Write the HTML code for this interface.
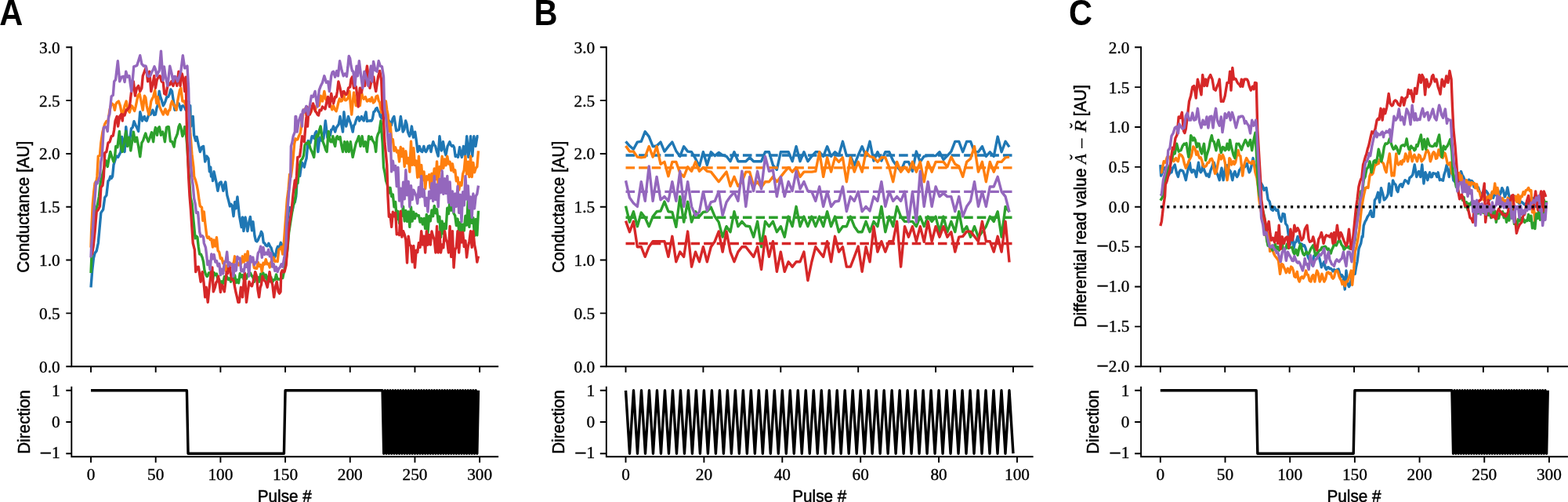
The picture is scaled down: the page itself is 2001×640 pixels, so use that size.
<!DOCTYPE html>
<html lang="en"><head><meta charset="utf-8"><title>Figure</title>
<style>html,body{margin:0;padding:0;background:#fff}svg{display:block}.t{font-family:"Liberation Serif", serif;font-size:21.3px;fill:#000;stroke:#000;stroke-width:0.35px}.l{font-family:"Liberation Sans", sans-serif;font-size:21.0px;fill:#000;stroke:#000;stroke-width:0.5px;text-anchor:middle}.p{font-family:"Liberation Sans", sans-serif;font-weight:bold;font-size:44px;fill:#000}.m{font-family:"Liberation Serif", serif;font-size:21.8px;fill:#000;stroke:#000;stroke-width:0.3px}.s{stroke:#000;stroke-width:1.9;fill:none;stroke-linecap:butt}.sq{stroke:#000;stroke-width:1.9;fill:none;stroke-linecap:square}.d{fill:none;stroke-width:3.4;stroke-linejoin:round;stroke-linecap:butt}</style></head><body>
<svg width="2001" height="640" viewBox="0 0 2001 640">
<rect width="2001" height="640" fill="#fff"/>
<g id="panelA">
<clipPath id="cu0"><rect x="91.3" y="60.3" width="543.9" height="406.9"/></clipPath>
<g clip-path="url(#cu0)">
<polyline class="d" stroke="#1f77b4" points="116.02,366.29 117.71,344.72 119.4,329.26 121.1,322.61 123.2,319.9 125.32,310 127.42,286.94 128.82,271.35 130.23,269.18 131.65,267.14 133.75,251.68 135.87,248.97 137.97,230.66 139.37,229.43 140.78,224.96 142.18,227.4 143.59,224.96 145,210.31 146.76,204.61 148.52,199.05 150.63,200.41 152.73,196.2 154.14,193.49 155.55,174.5 157.66,182.23 159.07,193.49 160.76,161.75 162.57,179.39 164.69,182.23 166.1,175.32 167.5,163.92 169.26,162.43 171.02,154.7 173.12,159.72 174.89,163.11 176.65,167.45 178.75,142.77 180.15,148.19 181.58,154.02 182.98,150.09 184.39,148.46 185.79,153.21 187.2,154.02 188.6,149.82 190.01,145.61 192.11,146.02 193.51,143.31 194.92,140.32 196.69,146.43 198.44,146.02 200.03,137.48 201.6,133 203.19,116.18 204.78,123.51 206.53,128.66 208.28,134.76 209.69,132.32 211.09,129.07 212.86,123.64 214.62,123.51 216.25,120.11 217.89,113.88 219.54,116.45 220.95,126.35 223.05,140.32 225.17,134.76 226.57,134.08 227.98,131.91 229.38,135.71 230.79,140.32 232.19,135.31 233.6,134.76 235.35,136.12 237.12,140.32 238.88,134.49 240.63,129.07 241.34,142.77 242.75,134.76 243.44,161.08 244.85,157.14 246.25,148.46 247.66,172.33 249.77,179.39 251.18,174.5 253.3,184.95 255.4,193.49 257.51,187.8 259.61,186.44 261.73,206.11 263.83,199.05 265.95,201.9 267.35,218.72 268.76,213.16 269.47,224.96 270.87,222.92 271.57,230.66 272.97,218.72 274.38,224.96 276.15,233.23 277.9,243.27 280,233.5 282.12,232.01 283.53,237.44 284.93,243.27 286.34,236.08 287.74,232.01 289.86,248.97 291.61,255.48 293.36,262.94 294.77,260.22 296.18,262.26 298.01,275.69 299.7,257.38 301.1,265.78 302.94,251 305.32,274.19 306.73,282.06 308.13,289.66 309.54,277.04 310.94,294.67 313.06,277.04 314.47,285.45 315.87,294.67 317.62,283.96 319.39,276.36 321.49,293.86 322.9,282.6 325.02,300.91 326.42,306.88 327.83,307.97 329.23,306.07 330.64,302.41 332.04,299.96 333.45,295.35 334.86,298.07 336.26,309.32 337.67,310 339.07,312.85 340.96,313.8 342.83,310.27 344.7,314.21 346.1,316.1 347.51,321.39 348.91,324.11 350.33,328.18 351.74,325.46 353.15,317.73 354.55,314.21 356.42,315.97 358.29,309.32 360.17,312.85 361.93,314.21 363.68,310 365.27,300.91 366.86,280.43 368.43,267.95 370.01,264.43 371.6,269.72 373.17,268.09 374.76,259.41 376.35,257.38 377.75,250.32 379.14,229.98 380,224.96 382.66,224.42 384.07,214.38 385.48,207.46 386.88,209.9 388.29,213.16 389.69,206.78 391.1,201.9 393.2,179.39 394.6,182.91 396.01,182.23 398.13,173.69 399.53,173.83 400.94,176.54 402.34,169.62 403.75,167.45 405.87,193.49 407.97,175.18 409.37,178.17 410.78,179.39 412.89,176.54 415.29,154.02 417.82,175.18 419.92,173.69 421.33,172.6 422.73,165.28 424.14,164.87 425.54,161.08 427.66,168.13 429.07,162.97 430.47,161.08 432.23,158.5 434,148.46 435.75,158.5 437.5,168.13 438.91,142.77 440.31,154.16 441.72,161.08 443.12,155.11 444.53,148.46 445.93,153.21 447.34,156.87 448.76,162.43 450.17,168.13 451.57,159.99 452.98,158.23 454.39,153.21 455.79,149.82 457.2,149 458.6,154.02 460.01,151.58 461.41,148.46 462.82,152.26 464.22,154.02 465.63,147.65 467.04,142.77 468.44,154.57 469.85,154.02 471.25,154.16 472.66,153.75 474.06,154.02 475.47,151.17 476.88,142.77 478.28,141.82 479.69,138.7 481.09,137.61 482.51,141.54 483.92,143.17 485.33,148.46 487.08,150.9 488.83,142.77 490.58,144.66 492.35,145.61 493.76,150.5 495.17,152.4 496.57,154.02 497.98,157.14 499.38,159.72 501.14,151.31 502.9,148.46 504.31,157.41 505.72,166.77 507.47,166.09 509.22,165.28 511.34,148.46 512.74,157.41 514.15,168.13 515.9,165.01 517.67,154.02 519.08,158.36 520.48,168.13 522.58,173.69 523.99,169.76 525.39,161.08 527.51,175.18 529.61,168.13 531.38,179.79 533.13,193.49 535.25,186.44 537,192.41 538.76,193.49 540.87,186.44 542.28,192 543.68,193.49 545.09,190.78 546.5,186.44 548.25,185.76 550.02,193.49 551.42,185.63 552.83,180.74 554.24,184.95 555.64,186.44 557.39,193.36 559.15,199.05 560.98,173.69 563.36,192 565.48,180.74 567.23,191.73 569,197.7 571.1,186.44 572.51,183.73 573.91,180.74 575.32,184.81 576.73,186.44 578.13,185.49 579.54,187.8 581.19,199.46 582.83,198.1 584.46,200.41 586.58,187.8 587.99,195.93 589.39,200.41 591.49,186.44 593.61,199.05 595.71,173.69 597.83,200.41 599.23,188.61 600.64,173.69 602.75,199.05 604.85,173.69 606.97,186.44 609.07,173.69 610.48,173.69" stroke-linecap="square"/>
<polyline class="d" stroke="#ff7f0e" points="116.02,315.56 116.6,295.35 118.29,260.22 119.69,245.3 121.1,233.5 123.2,229.98 123.91,224.96 125.32,199.05 127.42,198.37 128.82,182.23 130.94,168.13 132.34,162.97 133.75,158.23 135.87,154.7 137.97,154.02 140.08,140.05 141.49,134.76 142.9,131.91 143.59,132.59 145,133.95 146.4,140.32 147.82,133 149.23,130.56 151.33,129.07 153.45,134.76 155.55,146.02 157.32,143.31 159.07,134.76 161.17,129.07 163.29,140.32 165.4,143.17 167.5,134.76 168.91,135.71 170.31,138.97 171.72,141.41 173.12,136.12 174.53,129.2 175.94,122.15 178.05,119.3 180.15,129.07 182.27,140.32 184.39,122.15 185.79,124.32 187.2,134.76 188.6,140.87 190.01,146.02 191.41,138.42 192.82,129.07 194.23,125.95 195.63,123.51 197.73,115.1 199.85,131.91 201.25,123.51 203.37,134.76 205.47,140.32 206.88,143.17 208.28,146.02 209.69,142.49 211.09,138.97 212.5,144.12 213.9,146.02 215.33,140.87 216.73,140.32 218.14,132.86 219.54,129.07 220.95,132.46 222.36,134.76 223.76,136.93 225.17,140.32 226.57,129.74 227.98,122.15 229.38,114.96 230.79,112.25 232.91,129.07 235.01,129.07 237.12,134.76 239.22,131.91 241.34,140.32 242.75,168.13 244.85,196.2 246.96,213.16 247.66,224.96 249.43,229.71 251.18,236.22 252.58,243.68 253.99,254.66 255.4,262.94 257.51,264.43 258.92,281.25 260.32,269.99 261.73,284.1 263.83,300.91 264.86,303.49 266.51,302.13 268.16,305.39 269.82,304.58 271.47,315.02 273.12,306.07 274.78,313.93 276.43,302.68 278.08,319.36 279.74,321.53 281.39,329.67 283.05,328.99 284.7,335.77 286.35,333.47 288.01,345.13 289.66,338.89 291.31,340.11 292.97,335.36 294.62,337.4 296.28,336.31 297.93,337.26 299.58,326.82 301.24,333.6 302.89,334.14 304.54,338.08 306.2,335.77 307.85,336.04 309.5,326.82 311.16,334.14 312.81,324.11 314.47,332.38 316.12,320.44 317.77,335.36 319.43,330.35 321.08,331.16 322.73,331.16 324.39,341.6 326.04,342.28 327.7,342.42 329.35,334.41 331,339.57 332.66,337.67 334.31,346.62 335.96,335.23 337.62,336.99 339.27,330.75 340.93,336.72 342.58,335.91 344.23,340.93 345.89,333.87 347.54,332.52 349.19,328.31 350.85,333.33 352.5,332.92 354.15,333.47 355.81,318 357.46,317.33 359.12,314.75 360.77,324.11 362.27,310 364.39,281.25 366.49,253.17 368.08,241.51 369.65,222.25 371.24,225.37 372.81,213.16 374.21,199.87 375.62,183.59 377.03,176.81 378.43,178.03 379.84,177.76 381.26,173.69 383.36,169.48 385.48,154.02 387.58,140.05 388.29,140.32 389.69,138.42 391.1,146.02 392.5,141.82 393.91,137.61 395.32,142.63 396.72,143.17 398.13,138.97 399.53,134.76 400.94,137.34 402.34,140.32 403.75,135.71 405.15,131.91 407.27,134.76 409.37,122.15 411.49,129.07 413.87,116.45 415.71,126.35 417.11,128.12 418.52,129.07 420.27,129.61 422.04,134.76 423.79,139.78 425.54,134.76 427.31,139.51 429.07,141.82 430.47,136.8 431.88,130.56 433.28,125.95 434.69,129.07 436.44,128.52 438.21,119.3 440.31,127.71 441.72,127.71 443.12,126.35 444.53,123.91 445.93,116.45 447.34,132.73 448.76,146.02 450.17,130.56 451.57,117.94 452.98,125.4 454.39,134.76 455.79,128.79 457.2,129.07 459.3,134.76 461.41,117.94 462.82,123.37 464.22,126.35 466.34,123.51 468.44,129.07 469.85,128.52 471.25,126.62 472.66,129.07 474.54,124.18 476.41,130.96 478.28,129.07 480.05,123.1 481.8,122.15 483.21,128.39 484.61,130.56 486.73,143.17 488.83,140.32 490.58,130.83 492.35,129.07 493.76,140.05 495.17,146.7 496.37,167.59 498.03,157.82 499.68,178.3 501.33,177.76 502.99,192.27 504.64,187.8 506.29,193.9 507.95,192 509.6,205.97 511.26,187.52 512.91,199.6 514.56,189.56 516.22,212.48 517.87,192.81 519.52,208 521.18,201.36 522.83,219.13 524.49,180.2 526.14,210.31 527.79,188.61 529.45,210.58 531.1,205.02 532.75,226.18 534.41,199.32 536.06,225.91 537.71,210.45 539.37,229.84 541.02,218.86 542.68,240.69 544.33,224.69 545.98,228.89 547.64,222.65 549.29,239.34 550.94,221.16 552.6,231.33 554.25,214.92 555.91,228.89 557.56,205.97 559.21,234.86 560.87,212.62 562.52,217.09 564.17,199.32 565.83,214.38 567.48,202.99 569.13,210.85 570.79,199.32 572.44,208.95 574.1,206.24 575.75,217.23 577.4,208.82 579.06,219.13 580.71,216.82 582.36,230.79 584.02,226.32 585.67,242.18 587.33,232.83 588.98,236.35 590.63,221.84 592.29,216.69 593.94,199.32 595.59,221.97 597.25,206.24 598.9,225.5 600.56,199.32 602.21,225.64 603.86,207.33 605.52,219.8 607.17,214.38 608.82,212.62 610.48,192.41" stroke-linecap="square"/>
<polyline class="d" stroke="#2ca02c" points="116.02,347.98 118.29,295.35 120.39,274.19 122.51,267.14 124.61,260.22 126.37,250.46 128.13,233.5 130.23,224.42 131.65,219.13 133.06,213.16 135.16,204.75 137.27,212.48 139.03,202.04 140.78,193.49 142.9,200.41 145,206.11 146.4,201.09 147.82,186.44 149.92,187.8 152.32,167.45 154.14,186.44 156.26,193.49 158.36,182.23 160.76,167.45 162.57,186.44 164.69,175.18 166.81,192 168.56,180.47 170.31,168.13 172.43,180.74 174.53,175.18 176.65,186.44 178.75,199.73 180.86,182.23 182.62,179.25 184.39,173.69 185.79,170.03 187.2,175.18 189.3,180.74 191.41,175.18 193.51,168.81 195.63,180.74 197.04,168.67 198.44,162.57 200.56,172.33 201.97,163.38 203.37,161.75 205.47,172.33 207.59,168.13 208.99,172.6 210.4,180.74 212.5,162.57 213.9,161.75 215.33,161.75 217.43,180.06 219.54,180.74 222.07,187.12 223.61,177.22 225.17,173.69 226.57,170.03 227.98,161.75 229.38,158.63 230.79,162.57 232.91,173.69 234.31,170.03 235.72,161.75 237.12,168.13 238.53,182.23 239.93,203.66 241.34,224.96 243.21,252.09 245.09,259.95 246.96,281.25 249.08,303.76 250.48,300.91 251.89,302.41 253.3,315.02 254.7,324.11 256.45,324.24 258.21,328.31 259.61,333.87 261.02,345.13 262.42,349.47 263.83,352.18 264.86,352.18 266.51,347.98 268.16,347.71 269.82,348.66 271.47,356.39 273.12,347.57 274.78,350.42 276.43,349.06 278.08,357.2 279.74,356.39 281.39,362.22 283.05,358.83 284.7,361.27 286.35,352.73 288.01,355.85 289.66,352.86 291.31,356.39 292.97,354.76 294.62,359.24 296.28,355.98 297.93,355.98 299.58,350.83 301.24,360.59 302.89,356.79 304.54,360.86 306.2,348.79 307.85,353.13 309.5,350.56 311.16,356.39 312.81,350.96 314.47,355.3 316.12,349.47 317.77,350.56 319.43,347.98 321.08,351.37 322.73,353.4 324.39,359.24 326.04,353.67 327.7,356.66 329.35,353.54 331,359.24 332.66,349.33 334.31,354.49 335.96,348.11 337.62,354.35 339.27,350.28 340.93,356.93 342.58,352.86 344.23,358.83 345.89,353.4 347.54,360.05 349.19,356.66 350.85,356.66 352.5,349.88 354.15,356.12 355.81,355.85 357.46,356.39 359.12,353.54 360.77,354.49 363.33,342.01 365.09,331.16 366.86,318.27 368.61,296.84 370.36,285.59 372.13,274.19 374,262.53 375.87,257.65 377.75,246.12 378.43,229.98 380,233.5 381.26,218.72 383.36,206.11 384.76,203.53 386.17,201.9 387.58,197.97 388.98,184.95 391.1,182.23 392.5,182.78 393.91,180.74 396.01,189.29 398.13,193.49 400.66,200.41 403.05,176.54 404.46,172.06 405.87,173.69 407.49,166.23 409.09,161.08 410.64,172.6 412.18,180.74 414.3,186.44 415.71,191.05 417.11,193.49 419.23,167.45 420.63,177.49 422.04,180.74 423.44,180.74 424.85,173.69 426.26,182.51 427.66,186.44 429.07,175.72 430.47,173.69 432.23,177.49 434,174.5 435.75,185.22 437.5,193.49 439.62,180.74 441.72,193.49 443.12,180.74 445.24,193.49 447.34,180.74 448.76,191.19 450.17,200.41 451.57,194.17 452.98,187.8 454.39,182.1 455.79,179.39 457.89,173.69 460.01,186.44 462.11,173.69 464.22,186.44 466.34,180.74 468.44,193.49 470.56,173.69 472.31,177.35 474.06,174.5 475.47,179.11 476.88,180.74 478.28,184 479.69,193.49 481.09,175.18 482.51,170.57 483.92,168.13 486.02,154.02 488.14,182.23 489.54,213.16 491.08,220.35 492.6,230.38 494.14,234.86 496.37,245.71 498.03,239.47 499.68,250.59 501.33,248.02 502.99,263.89 504.64,257.51 506.29,279.75 507.95,269.31 509.6,284.5 511.26,274.33 512.91,275.14 514.56,263.07 516.22,281.92 517.87,268.5 519.52,282.33 521.18,269.99 522.83,289.38 524.49,264.02 526.14,282.06 527.79,270.26 529.45,278.67 531.1,272.7 532.75,275.01 534.41,274.74 536.06,283.15 537.71,278.4 539.37,285.99 541.02,278.53 542.68,291.55 544.33,273.38 545.98,296.84 547.64,275.55 549.29,281.79 550.94,267.95 552.6,275.69 554.25,262.39 555.91,271.75 557.56,266.87 559.21,282.87 560.87,276.09 562.52,302.54 564.17,282.06 565.83,297.93 567.48,285.32 569.13,291.69 570.79,265.24 572.44,272.57 574.1,255.61 575.75,268.23 577.4,262.12 579.06,272.02 580.71,274.87 582.36,287.49 584.02,279.08 585.67,293.72 587.33,283.55 588.98,295.9 590.63,286.27 592.29,294.13 593.94,275.14 595.59,287.08 597.25,256.56 598.9,289.38 600.56,264.29 602.21,284.37 603.86,277.58 605.52,300.64 607.17,279.35 608.82,299.83 610.48,268.77" stroke-linecap="square"/>
<polyline class="d" stroke="#d62728" points="116.02,325.46 117.51,323.84 118.98,315.02 121.1,295.35 123.2,269.99 125.32,267.14 127.42,262.94 128.82,239.06 130.94,236.22 132.34,224.96 133.75,194.85 135.87,193.49 137.97,182.23 140.08,180.74 142.18,173.69 144.3,173.01 145.71,165.28 147.11,154.02 149.23,148.46 150.63,161.08 152.73,148.46 154.85,145.61 156.26,154.02 156.95,146.02 159.07,146.97 161.17,140.05 161.88,140.32 163.63,138.56 165.4,136.12 167.5,117.94 168.91,109.26 170.31,103.84 172.43,122.15 174.53,112.25 176.65,109.4 178.75,116.45 180.86,112.25 182.27,96.79 184.39,91.22 186.49,85.53 188.6,103.84 190.7,91.22 192.82,116.45 194.92,106.69 196.76,96.79 198.44,112.25 200.13,102.35 201.97,98.14 204.07,96.79 206.18,103.84 208.28,105.19 209.69,119.3 211.8,120.66 213.9,109.4 215.33,106.01 216.73,108.04 218.83,103.84 220.95,109.4 222.36,104.79 223.76,98.14 225.86,109.4 227.98,91.22 230.08,109.4 232.19,93.94 234.31,102.35 235.72,116.45 237.12,98.14 238.53,168.13 240.63,224.96 242.03,249.92 243.44,267.14 244.85,288.98 246.25,310 248.37,318.41 249.77,346.62 251.53,340.38 253.3,340.25 254.7,349.47 256.11,359.24 258.21,346.62 259.98,359.91 261.73,378.9 263.14,366.29 265.24,385.28 266.66,370.49 268.06,359.24 269.47,346.76 270.87,340.93 272.28,371.85 274.38,366.29 275.79,360.32 277.19,358.29 278.6,352.18 280,361.41 281.41,372.53 282.83,363.17 284.24,364.8 286.34,371.85 287.74,360.32 289.15,346.62 290.55,348.66 291.96,338.21 293.36,340.93 295.48,356.39 296.89,356.25 298.29,357.88 299.7,366.15 301.1,373.21 302.51,378.9 303.92,385.41 305.32,385.28 307.44,366.29 309.54,378.9 310.94,361.95 312.35,347.98 314.47,385.28 316.22,371.99 317.99,359.24 319.74,363.44 321.49,364.8 322.9,359.64 324.31,353.54 325.71,346.62 327.35,351.5 329,369.14 330.64,378.9 332.04,366.97 333.45,362.9 334.86,352.18 336.26,355.85 337.67,357.88 339.07,359.24 341.19,366.29 342.6,357.61 344,346.62 345.87,357.88 347.75,362.63 349.62,378.9 351.38,366.42 353.15,359.24 355.25,371.85 356.65,374.16 358.06,371.85 358.77,347.98 360.17,344.72 361.58,346.89 362.99,346.62 365.09,338.08 367.2,310 368.61,292.23 370.01,281.25 372.13,267.14 374.23,246.12 376.33,229.98 377.04,239.06 378.45,224.96 379.84,200.41 381.26,200.14 382.66,199.05 384.07,188.2 385.48,173.69 386.88,175.59 388.29,180.74 389.69,163.25 391.1,148.46 391.79,136.12 392.5,161.08 393.91,140.05 395.32,146.02 396.72,142.36 398.13,136.53 399.53,131.91 400.94,136.53 402.34,141.82 403.75,143.17 405.15,146.02 406.56,146.97 407.97,140.32 409.74,140.87 411.49,136.12 413.24,137.48 415.01,138.97 416.76,130.69 418.52,123.51 420.63,136.12 422.73,119.3 424.14,126.76 425.54,131.91 427.66,123.51 429.07,123.78 430.47,116.45 431.88,103.84 434,112.25 436.1,123.51 437.5,117.13 438.91,116.45 440.31,119.3 441.72,120.66 443.12,118.76 444.53,112.25 446.65,110.89 448.05,100.99 449.46,98.14 451.57,112.25 452.98,109.13 454.39,110.89 455.79,121.2 457.2,136.12 459.3,112.25 461.41,117.94 463.51,103.84 465.63,109.4 467.04,95.02 468.44,84.17 469.85,95.43 471.96,112.25 473.37,106.14 474.78,102.35 476.88,98.14 478.28,109.4 479.69,116.45 481.09,107.23 482.51,98.14 484.61,90.41 486.73,102.35 488.14,140.05 488.83,140.32 490.95,182.23 492.35,195.53 493.76,210.31 495,250.05 496.37,276.23 498.03,273.65 499.68,289.38 501.33,270.26 502.99,275.69 504.64,271.35 506.29,298.88 507.95,297.66 509.6,299.69 511.26,269.31 512.91,302.13 514.56,294.67 516.22,299.01 517.87,305.93 519.52,334.96 521.18,301.18 522.83,312.31 524.49,313.39 526.14,334.01 527.79,313.39 529.45,341.06 531.1,319.09 532.75,321.67 534.41,309.59 536.06,315.29 537.71,294.67 539.37,312.04 541.02,301.18 542.68,321.94 544.33,294.67 545.98,312.17 547.64,299.56 549.29,312.04 550.94,294.95 552.6,301.18 554.25,305.53 555.91,321.94 557.56,288.57 559.21,321.94 560.87,295.62 562.52,321.94 564.17,311.9 565.83,315.83 567.48,294.67 569.13,305.39 570.79,309.32 572.44,321.94 574.1,288.57 575.75,327.5 577.4,294.67 579.06,341.06 580.71,318.55 582.36,315.29 584.02,294.67 585.67,321.94 587.33,296.3 588.98,309.05 590.63,296.17 592.29,314.48 593.94,306.88 595.59,328.04 597.25,314.34 598.9,307.83 600.56,294.67 602.21,315.29 603.86,294.67 605.52,312.04 607.17,320.04 608.82,334.01 610.48,326.55" stroke-linecap="square"/>
<polyline class="d" stroke="#9467bd" points="116.02,328.31 116.6,315.02 118.14,297.25 119.69,271.35 121.79,243.27 122.51,232.01 123.91,234.05 125.32,230.66 127.42,224.96 128.82,206.11 130.23,199.05 132.34,162.57 134.46,161.75 135.87,162.57 137.27,167.45 138.68,148.46 139.8,146.02 142.18,122.83 144.3,121.34 145.71,103.84 147.54,101.67 148.95,89.46 150.35,77.8 152.73,103.84 155.13,98.14 157.66,97.46 159.07,104.52 160.76,91.22 162.86,98.14 164.97,96.79 166.38,106.96 167.78,116.45 169.26,101.53 170.74,84.85 173.12,84.17 174.81,83.36 176.78,77.25 178.75,70.74 180.86,81.32 183.26,84.17 184.67,83.9 186.07,84.17 188.32,96.79 190.01,97.46 191.7,96.79 193.94,91.22 195.48,88.92 197.04,84.85 198.59,88.78 200.13,96.79 201.75,92.85 203.37,89.73 205.47,65.18 208,102.35 209.41,84.85 211.37,98.14 213.9,109.4 215.33,96.92 216.73,84.17 218.83,92.58 220.95,103.84 222.64,97.46 224.46,98.14 226.57,103.84 228.67,98.14 230.79,91.22 233.32,70.74 235.72,86.88 237.12,86.21 238.94,84.17 240.63,112.25 242.03,175.18 243.44,210.31 244.85,226.45 246.25,236.22 247.66,253.17 249.08,259.41 250.48,271.35 252.58,270.67 254.7,295.35 256.11,301.59 257.86,300.51 259.61,302.41 260.32,310 261.73,313.66 262.42,315.56 263.83,326.82 264.86,337.53 266.51,333.06 268.16,343.91 269.82,323.84 271.47,329.94 273.12,324.51 274.78,334.01 276.43,332.52 278.08,339.16 279.74,336.18 281.39,350.56 283.05,343.1 284.7,348.93 286.35,334.82 288.01,333.74 289.66,321.12 291.31,339.57 292.97,334.82 294.62,337.13 296.28,336.72 297.93,352.18 299.58,337.13 301.24,345.13 302.89,327.23 304.54,329.94 306.2,329.13 307.85,345.81 309.5,343.77 311.16,346.62 312.81,336.99 314.47,340.25 316.12,334.82 317.77,352.18 319.43,326.82 321.08,333.87 322.73,328.04 324.39,337.53 326.04,334.82 327.7,334.01 329.35,322.48 331,320.44 332.66,314.21 334.31,328.31 335.96,315.56 337.62,324.51 339.27,322.21 340.93,324.11 342.58,318.14 344.23,326.82 345.89,322.61 347.54,340.11 349.19,336.59 350.85,345.4 352.5,340.25 354.15,346.62 355.81,342.42 357.46,340.52 359.12,336.72 360.77,340.25 362.99,326.82 365.09,310 365.8,284.1 367.2,266.19 368.61,246.12 370.72,224.96 371.4,186.44 372.81,181.56 374.21,173.69 376.35,168.13 377.03,148.46 377.75,148.46 379.14,168.13 381.26,154.02 383.36,148.46 384.07,146.02 385.48,161.08 386.17,141.82 386.88,140.05 388.29,143.17 390.82,135.44 393.2,146.02 395.32,134.76 397.42,122.15 399.53,123.51 402.06,116.45 403.62,126.9 405.15,136.12 407.27,115.1 409.37,109.4 411.49,105.19 413.87,96.79 416.42,105.19 418.52,103.84 420.35,116.45 422.73,96.79 424.14,92.04 425.54,91.22 427.66,98.14 429.76,90.41 431.45,96.79 433.57,77.8 436.1,89.73 438.21,96.79 440.31,93.94 442.43,97.46 443.83,86.07 445.24,71.42 446.65,74.54 448.05,84.17 449.46,90.27 450.86,91.22 452.98,109.4 455.08,84.17 456.49,96.79 458.32,77.8 460.7,96.79 462.82,112.25 464.92,91.22 467.04,98.14 468.44,103.84 469.85,109.4 471.53,96.79 473.37,84.17 474.78,103.84 476.59,78.47 478.99,89.73 481.09,91.22 483.21,77.8 485.33,84.17 487.43,84.85 489.54,98.14 490.24,126.35 490.95,140.05 492.35,147.65 493.76,161.08 496.37,192.27 498.03,170.71 499.68,218.86 501.33,205.29 502.99,216.69 504.64,211.4 506.29,237.57 507.95,213.57 509.6,256.02 511.26,240.15 512.91,263.75 514.56,232.28 516.22,253.85 517.87,216.82 519.52,248.83 521.18,231.33 522.83,263.75 524.49,236.62 526.14,254.53 527.79,242.32 529.45,245.98 531.1,249.78 532.75,259.41 534.41,238.66 536.06,251.27 537.71,224.42 539.37,250.73 541.02,241.78 542.68,262.26 544.33,252.49 545.98,270.12 547.64,244.08 549.29,252.9 550.94,233.78 552.6,256.29 554.25,224.42 555.91,254.66 557.56,235.13 559.21,263.75 560.87,228.21 562.52,245.58 564.17,217.77 565.83,247.34 567.48,227.67 569.13,246.52 570.79,224.42 572.44,258.19 574.1,232.01 575.75,261.72 577.4,243.95 579.06,270.12 580.71,247.07 582.36,263.21 584.02,237.57 585.67,271.21 587.33,248.29 588.98,282.74 590.63,244.76 592.29,261.72 593.94,224.42 595.59,254.12 597.25,236.89 598.9,265.51 600.56,250.86 602.21,277.18 603.86,247.07 605.52,265.92 607.17,250.19 608.82,247.34 610.48,236.62" stroke-linecap="square"/>
</g>
<polyline class="d" stroke="#000" stroke-width="3.4" stroke-linejoin="miter" stroke-linecap="square" points="116.02,497.77 238.4,497.77 240.05,578.18 362.42,578.18 364.08,497.77 488.1,497.77 489.76,578.18 491.41,497.77 493.06,578.18 494.72,497.77 496.37,578.18 498.03,497.77 499.68,578.18 501.33,497.77 502.99,578.18 504.64,497.77 506.29,578.18 507.95,497.77 509.6,578.18 511.26,497.77 512.91,578.18 514.56,497.77 516.22,578.18 517.87,497.77 519.52,578.18 521.18,497.77 522.83,578.18 524.49,497.77 526.14,578.18 527.79,497.77 529.45,578.18 531.1,497.77 532.75,578.18 534.41,497.77 536.06,578.18 537.71,497.77 539.37,578.18 541.02,497.77 542.68,578.18 544.33,497.77 545.98,578.18 547.64,497.77 549.29,578.18 550.94,497.77 552.6,578.18 554.25,497.77 555.91,578.18 557.56,497.77 559.21,578.18 560.87,497.77 562.52,578.18 564.17,497.77 565.83,578.18 567.48,497.77 569.13,578.18 570.79,497.77 572.44,578.18 574.1,497.77 575.75,578.18 577.4,497.77 579.06,578.18 580.71,497.77 582.36,578.18 584.02,497.77 585.67,578.18 587.33,497.77 588.98,578.18 590.63,497.77 592.29,578.18 593.94,497.77 595.59,578.18 597.25,497.77 598.9,578.18 600.56,497.77 602.21,578.18 603.86,497.77 605.52,578.18 607.17,497.77 608.82,578.18 610.48,497.77"/>
<path class="sq" d="M91.3 60.3V467.2H635.2"/>
<path class="sq" d="M91.3 493.75V582.2H635.2"/>
<path class="s" d="M116.02 467.2v7.6M198.71 467.2v7.6M281.39 467.2v7.6M364.08 467.2v7.6M446.76 467.2v7.6M529.45 467.2v7.6M612.13 467.2v7.6M116.02 582.2v7.6M198.71 582.2v7.6M281.39 582.2v7.6M364.08 582.2v7.6M446.76 582.2v7.6M529.45 582.2v7.6M612.13 582.2v7.6M91.3 467.2h-7M91.3 399.38h-7M91.3 331.57h-7M91.3 263.75h-7M91.3 195.93h-7M91.3 128.12h-7M91.3 60.3h-7M91.3 578.18h-7M91.3 537.98h-7M91.3 497.77h-7"/>
<text class="t" text-anchor="end" transform="translate(76.6 474.6) scale(1 1.02)">0.0</text>
<text class="t" text-anchor="end" transform="translate(76.6 406.78) scale(1 1.02)">0.5</text>
<text class="t" text-anchor="end" transform="translate(76.6 338.97) scale(1 1.02)">1.0</text>
<text class="t" text-anchor="end" transform="translate(76.6 271.15) scale(1 1.02)">1.5</text>
<text class="t" text-anchor="end" transform="translate(76.6 203.33) scale(1 1.02)">2.0</text>
<text class="t" text-anchor="end" transform="translate(76.6 135.52) scale(1 1.02)">2.5</text>
<text class="t" text-anchor="end" transform="translate(76.6 67.7) scale(1 1.02)">3.0</text>
<text class="t" text-anchor="end" transform="translate(76.6 584.48) scale(1 1.02)"><tspan font-size="28" dy="2.3">−</tspan><tspan dy="-2.3">1</tspan></text>
<text class="t" text-anchor="end" transform="translate(76.6 545.38) scale(1 1.02)">0</text>
<text class="t" text-anchor="end" transform="translate(76.6 505.17) scale(1 1.02)">1</text>
<text class="t" text-anchor="middle" transform="translate(116.02 611.6) scale(1 1.02)">0</text>
<text class="t" text-anchor="middle" transform="translate(198.71 611.6) scale(1 1.02)">50</text>
<text class="t" text-anchor="middle" transform="translate(281.39 611.6) scale(1 1.02)">100</text>
<text class="t" text-anchor="middle" transform="translate(364.08 611.6) scale(1 1.02)">150</text>
<text class="t" text-anchor="middle" transform="translate(446.76 611.6) scale(1 1.02)">200</text>
<text class="t" text-anchor="middle" transform="translate(529.45 611.6) scale(1 1.02)">250</text>
<text class="t" text-anchor="middle" transform="translate(612.13 611.6) scale(1 1.02)">300</text>
<text class="l" transform="translate(363.25 640) scale(0.987 1.05)">Pulse #</text>
<text class="l" transform="translate(37.5 537.98) rotate(-90) scale(0.987 1.05)">Direction</text>
<text class="l" transform="translate(37.4 263.75) rotate(-90) scale(0.987 1.05)">Conductance [AU]</text>
<text class="p" transform="translate(-0.7 31.8) scale(0.945 1.065)">A</text>
</g>
<g id="panelB">
<clipPath id="cu1"><rect x="773.8" y="60.3" width="543.9" height="406.9"/></clipPath>
<g clip-path="url(#cu1)">
<polyline class="d" stroke="#1f77b4" points="798.52,180.34 803.47,186.03 808.41,190.24 813.36,181.15 818.3,180.34 823.25,167.72 828.19,174.1 833.13,186.71 838.08,186.03 843.02,181.15 847.97,193.09 852.91,186.71 857.86,181.15 862.8,192.41 867.75,199.32 872.69,186.71 877.64,193.09 882.58,193.76 887.52,202.17 892.47,212.07 897.41,193.76 902.36,210.58 907.3,193.76 912.25,198.65 917.19,194.44 922.14,197.97 927.08,199.32 932.03,205.7 936.97,193.76 941.91,205.7 946.86,205.7 951.8,205.7 956.75,200.82 961.69,205.7 966.64,205.7 971.58,205.7 976.53,193.76 981.47,193.76 986.42,210.58 991.36,216.28 996.3,193.76 1001.25,193.76 1006.19,193.76 1011.14,205.7 1016.08,186.71 1021.03,205.7 1025.97,193.76 1030.92,205.7 1035.86,199.32 1040.81,193.76 1045.75,193.76 1050.69,199.32 1055.64,186.71 1060.58,199.32 1065.53,193.76 1070.47,197.97 1075.42,180.34 1080.36,198.65 1085.31,198.65 1090.25,210.58 1095.2,197.97 1100.14,186.71 1105.08,198.65 1110.03,180.34 1114.97,205.02 1119.92,193.76 1124.86,205.02 1129.81,193.76 1134.75,193.76 1139.7,205.02 1144.64,212.07 1149.59,218.31 1154.53,206.38 1159.47,206.38 1164.42,218.31 1169.36,193.09 1174.31,206.38 1179.25,199.32 1184.2,198.65 1189.14,198.65 1194.09,198.65 1199.03,193.76 1203.98,203.53 1208.92,198.65 1213.86,193.09 1218.81,180.34 1223.75,180.34 1228.7,193.76 1233.64,180.34 1238.59,180.34 1243.53,193.76 1248.48,193.76 1253.42,186.71 1258.37,199.32 1263.31,193.76 1268.25,199.32 1273.2,174.1 1278.14,193.76 1283.09,180.34 1288.03,187.39" stroke-linecap="square"/>
<polyline class="d" stroke="#1f77b4" points="798.52,197.97 1292.98,197.97" stroke-dasharray="11.6 5.0"/>
<polyline class="d" stroke="#ff7f0e" points="798.52,186.03 803.47,193.09 808.41,193.09 813.36,200.14 818.3,200.82 823.25,200.14 828.19,186.71 833.13,200.14 838.08,186.71 843.02,209.23 847.97,206.38 852.91,224.69 857.86,206.38 862.8,206.38 867.75,220.48 872.69,225.37 877.64,212.75 882.58,218.31 887.52,206.38 892.47,218.31 897.41,213.43 902.36,218.31 907.3,219.13 912.25,225.37 917.19,231.74 922.14,225.37 927.08,219.13 932.03,237.3 936.97,225.37 941.91,237.3 946.86,231.74 951.8,219.13 956.75,219.13 961.69,237.3 966.64,231.74 971.58,238.79 976.53,231.74 981.47,231.74 986.42,225.37 991.36,231.74 996.3,225.37 1001.25,219.13 1006.19,213.43 1011.14,219.13 1016.08,213.43 1021.03,225.37 1025.97,219.13 1030.92,219.13 1035.86,219.13 1040.81,218.31 1045.75,193.76 1050.69,225.37 1055.64,200.82 1060.58,219.13 1065.53,200.82 1070.47,206.38 1075.42,200.82 1080.36,231.74 1085.31,200.82 1090.25,219.13 1095.2,206.38 1100.14,219.13 1105.08,193.76 1110.03,199.32 1114.97,200.82 1119.92,206.38 1124.86,200.82 1129.81,200.82 1134.75,213.43 1139.7,231.74 1144.64,206.38 1149.59,219.13 1154.53,212.75 1159.47,219.13 1164.42,206.38 1169.36,219.13 1174.31,206.38 1179.25,231.74 1184.2,206.38 1189.14,219.13 1194.09,206.38 1199.03,206.38 1203.98,206.38 1208.92,212.75 1213.86,200.14 1218.81,209.23 1223.75,212.07 1228.7,225.37 1233.64,206.38 1238.59,202.17 1243.53,186.71 1248.48,219.13 1253.42,206.38 1258.37,231.74 1263.31,206.38 1268.25,219.13 1273.2,206.38 1278.14,206.38 1283.09,200.82 1288.03,200.14" stroke-linecap="square"/>
<polyline class="d" stroke="#ff7f0e" points="798.52,213.84 1292.98,213.84" stroke-dasharray="11.6 5.0"/>
<polyline class="d" stroke="#2ca02c" points="798.52,262.66 803.47,283.15 808.41,269.72 813.36,288.71 818.3,271.07 823.25,277.45 828.19,288.71 833.13,276.09 838.08,269.72 843.02,269.04 847.97,257.1 852.91,269.72 857.86,270.4 862.8,289.38 867.75,250.73 872.69,283.15 877.64,257.1 882.58,283.15 887.52,269.72 892.47,276.09 897.41,270.4 902.36,269.72 907.3,264.16 912.25,276.09 917.19,283.15 922.14,302.13 927.08,288.71 932.03,295.76 936.97,269.72 941.91,288.71 946.86,282.33 951.8,288.03 956.75,288.71 961.69,302.13 966.64,282.33 971.58,314.75 976.53,282.33 981.47,288.71 986.42,282.33 991.36,295.76 996.3,288.71 1001.25,302.13 1006.19,276.09 1011.14,288.71 1016.08,263.34 1021.03,288.71 1025.97,276.09 1030.92,288.71 1035.86,276.09 1040.81,288.71 1045.75,276.09 1050.69,288.71 1055.64,269.72 1060.58,288.71 1065.53,276.09 1070.47,295.76 1075.42,288.71 1080.36,288.71 1085.31,276.09 1090.25,288.71 1095.2,295.76 1100.14,295.76 1105.08,282.33 1110.03,295.76 1114.97,282.33 1119.92,288.71 1124.86,263.34 1129.81,295.76 1134.75,276.09 1139.7,288.71 1144.64,263.34 1149.59,276.09 1154.53,282.33 1159.47,282.33 1164.42,282.33 1169.36,288.71 1174.31,276.09 1179.25,288.71 1184.2,276.09 1189.14,282.33 1194.09,276.09 1199.03,295.76 1203.98,276.09 1208.92,295.76 1213.86,282.33 1218.81,295.76 1223.75,269.72 1228.7,295.76 1233.64,288.71 1238.59,302.13 1243.53,288.71 1248.48,302.13 1253.42,295.76 1258.37,288.71 1263.31,276.09 1268.25,282.33 1273.2,269.72 1278.14,302.13 1283.09,263.34 1288.03,270.4" stroke-linecap="square"/>
<polyline class="d" stroke="#2ca02c" points="798.52,277.18 1292.98,277.18" stroke-dasharray="11.6 5.0"/>
<polyline class="d" stroke="#d62728" points="798.52,281.65 803.47,295.76 808.41,282.33 813.36,314.75 818.3,314.75 823.25,327.36 828.19,314.75 833.13,307.7 838.08,307.7 843.02,307.7 847.97,307.7 852.91,327.36 857.86,301.32 862.8,333.74 867.75,321.12 872.69,327.36 877.64,295.08 882.58,340.11 887.52,321.12 892.47,333.74 897.41,314.75 902.36,333.74 907.3,314.75 912.25,307.7 917.19,295.08 922.14,321.12 927.08,295.08 932.03,321.12 936.97,333.74 941.91,321.12 946.86,314.75 951.8,314.75 956.75,321.12 961.69,327.36 966.64,314.75 971.58,343.5 976.53,301.32 981.47,327.36 986.42,307.7 991.36,346.35 996.3,321.12 1001.25,346.35 1006.19,333.74 1011.14,340.11 1016.08,333.74 1021.03,333.74 1025.97,321.12 1030.92,357.61 1035.86,333.74 1040.81,314.75 1045.75,321.12 1050.69,327.36 1055.64,307.7 1060.58,333.74 1065.53,301.32 1070.47,321.12 1075.42,314.75 1080.36,340.11 1085.31,340.11 1090.25,327.36 1095.2,314.07 1100.14,346.35 1105.08,314.75 1110.03,333.74 1114.97,288.71 1119.92,321.12 1124.86,307.7 1129.81,321.12 1134.75,307.7 1139.7,307.7 1144.64,282.33 1149.59,340.11 1154.53,288.71 1159.47,302.13 1164.42,288.71 1169.36,307.7 1174.31,288.71 1179.25,308.37 1184.2,282.33 1189.14,307.7 1194.09,288.71 1199.03,302.13 1203.98,288.71 1208.92,302.13 1213.86,295.76 1218.81,321.12 1223.75,302.13 1228.7,301.32 1233.64,295.08 1238.59,295.08 1243.53,301.32 1248.48,307.7 1253.42,282.33 1258.37,307.7 1263.31,307.7 1268.25,321.12 1273.2,301.32 1278.14,321.12 1283.09,282.33 1288.03,334.41" stroke-linecap="square"/>
<polyline class="d" stroke="#d62728" points="798.52,310.54 1292.98,310.54" stroke-dasharray="11.6 5.0"/>
<polyline class="d" stroke="#9467bd" points="798.52,230.25 803.47,252.09 808.41,259 813.36,263.34 818.3,231.6 823.25,256.29 828.19,211.94 833.13,256.29 838.08,225.37 843.02,254.8 847.97,250.59 852.91,256.29 857.86,231.6 862.8,256.29 867.75,218.31 872.69,263.34 877.64,231.6 882.58,263.34 887.52,274.6 892.47,270.26 897.41,244.35 902.36,268.9 907.3,257.65 912.25,256.29 917.19,244.35 922.14,274.6 927.08,257.65 932.03,250.59 936.97,245.03 941.91,256.29 946.86,218.31 951.8,263.34 956.75,225.37 961.69,243.54 966.64,218.31 971.58,240.83 976.53,199.46 981.47,218.31 986.42,216.82 991.36,250.59 996.3,225.37 1001.25,250.59 1006.19,231.6 1011.14,243.54 1016.08,218.31 1021.03,240.83 1025.97,231.6 1030.92,243.54 1035.86,244.35 1040.81,256.29 1045.75,237.98 1050.69,263.34 1055.64,244.35 1060.58,263.34 1065.53,256.97 1070.47,256.29 1075.42,237.98 1080.36,269.58 1085.31,250.59 1090.25,256.29 1095.2,244.35 1100.14,269.58 1105.08,263.34 1110.03,268.9 1114.97,250.59 1119.92,256.29 1124.86,231.6 1129.81,263.34 1134.75,244.35 1139.7,256.29 1144.64,250.59 1149.59,256.29 1154.53,244.35 1159.47,283.01 1164.42,244.35 1169.36,283.01 1174.31,218.31 1179.25,263.34 1184.2,231.6 1189.14,263.34 1194.09,237.98 1199.03,250.59 1203.98,246.39 1208.92,250.59 1213.86,250.59 1218.81,269.58 1223.75,250.59 1228.7,275.96 1233.64,263.34 1238.59,256.29 1243.53,231.6 1248.48,263.34 1253.42,244.35 1258.37,263.34 1263.31,237.98 1268.25,237.98 1273.2,225.37 1278.14,244.35 1283.09,250.59 1288.03,270.26" stroke-linecap="square"/>
<polyline class="d" stroke="#9467bd" points="798.52,244.35 1292.98,244.35" stroke-dasharray="11.6 5.0"/>
</g>
<polyline class="d" stroke="#000" stroke-width="3.4" stroke-linejoin="miter" stroke-linecap="square" points="798.52,497.77 803.52,578.18 808.51,497.77 813.51,578.18 818.5,497.77 823.5,578.18 828.49,497.77 833.48,578.18 838.48,497.77 843.47,578.18 848.47,497.77 853.46,578.18 858.46,497.77 863.45,578.18 868.45,497.77 873.44,578.18 878.43,497.77 883.43,578.18 888.42,497.77 893.42,578.18 898.41,497.77 903.41,578.18 908.4,497.77 913.4,578.18 918.39,497.77 923.38,578.18 928.38,497.77 933.37,578.18 938.37,497.77 943.36,578.18 948.36,497.77 953.35,578.18 958.35,497.77 963.34,578.18 968.34,497.77 973.33,578.18 978.32,497.77 983.32,578.18 988.31,497.77 993.31,578.18 998.3,497.77 1003.3,578.18 1008.29,497.77 1013.29,578.18 1018.28,497.77 1023.27,578.18 1028.27,497.77 1033.26,578.18 1038.26,497.77 1043.25,578.18 1048.25,497.77 1053.24,578.18 1058.24,497.77 1063.23,578.18 1068.23,497.77 1073.22,578.18 1078.21,497.77 1083.21,578.18 1088.2,497.77 1093.2,578.18 1098.19,497.77 1103.19,578.18 1108.18,497.77 1113.18,578.18 1118.17,497.77 1123.16,578.18 1128.16,497.77 1133.15,578.18 1138.15,497.77 1143.14,578.18 1148.14,497.77 1153.13,578.18 1158.13,497.77 1163.12,578.18 1168.12,497.77 1173.11,578.18 1178.1,497.77 1183.1,578.18 1188.09,497.77 1193.09,578.18 1198.08,497.77 1203.08,578.18 1208.07,497.77 1213.07,578.18 1218.06,497.77 1223.05,578.18 1228.05,497.77 1233.04,578.18 1238.04,497.77 1243.03,578.18 1248.03,497.77 1253.02,578.18 1258.02,497.77 1263.01,578.18 1268,497.77 1273,578.18 1277.99,497.77 1282.99,578.18 1287.98,497.77 1292.98,578.18"/>
<path class="sq" d="M773.8 60.3V467.2H1317.7"/>
<path class="sq" d="M773.8 493.75V582.2H1317.7"/>
<path class="s" d="M798.52 467.2v7.6M897.41 467.2v7.6M996.3 467.2v7.6M1095.2 467.2v7.6M1194.09 467.2v7.6M1292.98 467.2v7.6M798.52 582.2v7.6M898.41 582.2v7.6M998.3 582.2v7.6M1098.19 582.2v7.6M1198.08 582.2v7.6M1297.97 582.2v7.6M773.8 467.2h-8M773.8 399.38h-8M773.8 331.57h-8M773.8 263.75h-8M773.8 195.93h-8M773.8 128.12h-8M773.8 60.3h-8M773.8 578.18h-8M773.8 537.98h-8M773.8 497.77h-8"/>
<text class="t" text-anchor="end" transform="translate(759.1 474.6) scale(1 1.02)">0.0</text>
<text class="t" text-anchor="end" transform="translate(759.1 406.78) scale(1 1.02)">0.5</text>
<text class="t" text-anchor="end" transform="translate(759.1 338.97) scale(1 1.02)">1.0</text>
<text class="t" text-anchor="end" transform="translate(759.1 271.15) scale(1 1.02)">1.5</text>
<text class="t" text-anchor="end" transform="translate(759.1 203.33) scale(1 1.02)">2.0</text>
<text class="t" text-anchor="end" transform="translate(759.1 135.52) scale(1 1.02)">2.5</text>
<text class="t" text-anchor="end" transform="translate(759.1 67.7) scale(1 1.02)">3.0</text>
<text class="t" text-anchor="end" transform="translate(759.1 584.48) scale(1 1.02)"><tspan font-size="28" dy="2.3">−</tspan><tspan dy="-2.3">1</tspan></text>
<text class="t" text-anchor="end" transform="translate(759.1 545.38) scale(1 1.02)">0</text>
<text class="t" text-anchor="end" transform="translate(759.1 505.17) scale(1 1.02)">1</text>
<text class="t" text-anchor="middle" transform="translate(798.52 611.6) scale(1 1.02)">0</text>
<text class="t" text-anchor="middle" transform="translate(898.41 611.6) scale(1 1.02)">20</text>
<text class="t" text-anchor="middle" transform="translate(998.3 611.6) scale(1 1.02)">40</text>
<text class="t" text-anchor="middle" transform="translate(1098.19 611.6) scale(1 1.02)">60</text>
<text class="t" text-anchor="middle" transform="translate(1198.08 611.6) scale(1 1.02)">80</text>
<text class="t" text-anchor="middle" transform="translate(1297.97 611.6) scale(1 1.02)">100</text>
<text class="l" transform="translate(1045.75 640) scale(0.987 1.05)">Pulse #</text>
<text class="l" transform="translate(720 537.98) rotate(-90) scale(0.987 1.05)">Direction</text>
<text class="l" transform="translate(719.9 263.75) rotate(-90) scale(0.987 1.05)">Conductance [AU]</text>
<text class="p" transform="translate(681.6 31.8) scale(0.945 1.065)">B</text>
</g>
<g id="panelC">
<clipPath id="cu2"><rect x="1456.1" y="60.3" width="543.9" height="406.9"/></clipPath>
<g clip-path="url(#cu2)">
<polyline class="d" stroke="#1f77b4" points="1480.82,210.04 1481.68,224.08 1483.08,220.42 1484.48,215.63 1486.25,213.7 1488.01,218.18 1489.76,219.3 1491.52,223.16 1493.28,220.21 1495.03,219.8 1496.45,214.31 1497.85,212.38 1499.25,210.04 1501.36,219.8 1503.47,225.5 1504.89,219.19 1506.29,217.06 1508.05,217.26 1509.8,218.48 1511.56,223.26 1513.32,229.67 1514.73,222.25 1516.13,215.63 1518.24,207.19 1519.65,216.96 1521.05,219.8 1522.46,216.65 1523.87,217.06 1525.27,220.21 1526.68,225.5 1528.09,215.33 1529.49,207.19 1530.89,216.96 1532.31,219.8 1533.71,217.77 1535.11,208.62 1536.51,216.04 1537.93,219.8 1539.56,224.08 1541.21,222.04 1542.84,225.5 1544.95,217.06 1546.37,213.8 1547.77,209.43 1549.17,207.19 1550.94,214.82 1552.7,219.8 1554.45,224.18 1556.21,229.67 1557.61,221.13 1559.03,214.21 1561.14,229.67 1562.54,221.94 1563.94,211.36 1565.7,210.75 1567.47,217.06 1568.87,216.65 1570.27,218.48 1572.81,229.67 1574.36,221.64 1575.91,218.48 1577.31,223.26 1578.71,225.5 1580.13,222.75 1581.53,217.06 1582.93,215.63 1584.35,212.79 1585.75,212.99 1587.15,211.57 1588.56,212.79 1589.97,210.24 1591.37,208.62 1592.78,215.13 1594.18,219.8 1595.59,217.57 1597,211.36 1599.1,201.6 1600.51,208.21 1601.91,212.79 1604.02,219.8 1605.43,220.92 1606.84,226.93 1608.59,232.72 1610.35,235.27 1611.75,238.32 1613.17,242.39 1614.57,240.05 1615.97,239.54 1618.08,254.19 1620.19,257.04 1622.3,266.9 1624.41,268.33 1626.52,264.06 1628.63,268.33 1630.74,267.62 1632.85,278.09 1634.96,282.37 1637.07,272.5 1639.18,273.21 1640.6,285.11 1642.71,287.96 1644.82,303.42 1646.33,311.87 1647.85,304.85 1649.38,299.25 1650.9,317.05 1652.43,309.22 1653.95,308.41 1656.06,301.39 1658.17,309.83 1659.93,310.75 1661.69,311.26 1663.1,313.6 1664.5,312.68 1665.9,315.83 1667.31,321.12 1669.42,328.14 1671.53,332.31 1673.23,332.11 1674.95,338.62 1676.66,326.31 1678.36,326.51 1680.07,324.48 1681.77,321.43 1683.48,328.14 1684.88,333.74 1686.3,340.76 1688.05,336.99 1689.81,333.74 1691.21,341.37 1692.63,343.6 1694.03,340.96 1695.43,340.76 1696.85,342.69 1698.25,342.18 1699.65,343.6 1701.07,345.74 1702.47,343.6 1703.87,345.54 1705.29,344.72 1706.69,343.6 1708.09,343.1 1709.51,347.77 1710.91,353.37 1712.31,350.62 1714.42,353.47 1716.25,368.93 1717.95,345.03 1720.06,361.91 1721.46,365.58 1722.86,363.24 1724.97,353.47 1726.39,351.54 1727.79,347.67 1729.19,349.2 1730.59,340.35 1732.01,333.74 1734.12,316.85 1736.75,310.03 1738.15,301.59 1739.03,302 1740.26,287.55 1741.14,285.11 1742.37,281.86 1743.25,280.94 1745.19,276.26 1747.3,273.41 1749.41,268.53 1750.81,276.26 1752.92,276.26 1754.34,255.21 1756.45,252.36 1758.56,245.34 1760.67,257.95 1762.5,239.64 1764.89,248.08 1766.29,254.8 1767.69,253.78 1769.8,250.93 1771.22,247.58 1772.62,234.05 1774.02,241.07 1775.44,249.51 1777.54,229.88 1779.29,234.15 1781.06,235.47 1782.46,242.29 1783.87,244.63 1785.27,238.01 1786.68,235.47 1788.08,234.66 1789.49,238.32 1791.24,233.64 1793,229.67 1794.41,230.59 1795.82,231.6 1797.22,233.94 1798.99,226.42 1800.73,225.5 1802.84,222.65 1805.23,210.04 1807.77,225.5 1809.17,220.72 1810.59,218.48 1812.7,225.5 1814.81,210.04 1816.92,233.94 1819.03,219.8 1820.43,223.67 1821.83,229.67 1823.25,223.67 1824.65,219.8 1826.05,225.81 1827.47,225.5 1828.87,220.72 1830.27,221.23 1832.03,221.43 1833.8,225.5 1835.2,219.8 1837.31,229.67 1838.71,228.65 1840.13,229.67 1841.53,230.18 1842.93,222.65 1844.48,217.97 1846.03,210.75 1847.64,216.35 1849.26,225.5 1851.37,212.79 1853.48,221.23 1854.88,229.88 1856.3,231.1 1858.4,226.93 1859.92,227.54 1861.45,221.74 1862.97,232.22 1864.5,218.58 1866.02,223.16 1867.54,225.5 1869.3,229.98 1871.06,233.94 1872.81,231.5 1874.57,229.16 1876.34,230.69 1878.08,230.38 1879.5,232.11 1880.9,238.12 1882.3,239.34 1883.72,238.93 1885.12,238.12 1886.52,239.03 1887.94,243.71 1889.69,246.56 1891.45,249.41 1893.21,248.9 1894.96,245.13 1896.38,243.4 1897.78,245.13 1899.18,247.47 1900.6,255.21 1902.35,251.03 1904.11,245.34 1905.63,252.36 1907.16,247.37 1908.67,248.08 1910.21,249.51 1911.72,242.39 1913.26,249.51 1915,246.46 1916.77,239.64 1918.51,243 1920.28,250.93 1922.04,247.27 1923.79,239.03 1925.55,248.49 1927.32,255.21 1929.06,251.95 1930.83,249.31 1932.59,250.22 1934.34,253.78 1935.75,255 1937.15,257.24 1938.56,259.38 1939.97,258.66 1941.37,257.34 1942.78,257.95 1944.19,259.68 1945.59,260.8 1947.24,259.58 1948.89,258.36 1950.54,261 1952.19,257.65 1953.83,258.56 1955.48,252.05 1957.13,259.88 1958.78,263.44 1960.44,263.24 1962.09,261.72 1963.74,257.44 1965.39,263.34 1967.04,260.09 1968.68,253.58 1970.33,273.72 1971.98,267.21 1973.63,262.22" stroke-linecap="square"/>
<polyline class="d" stroke="#ff7f0e" points="1480.82,219.8 1482.37,219.8 1483.79,212.28 1485.19,205.77 1487.3,207.19 1489.41,200.17 1491.09,199.26 1492.79,201.19 1494.47,205.77 1496.17,201.29 1497.85,205.77 1499.25,203.12 1500.67,201.6 1502.07,204.75 1503.47,205.77 1505.23,196.61 1507,197.32 1508.4,198.75 1509.8,201.6 1511.56,209.02 1513.32,214.21 1514.73,211.16 1516.13,208.11 1517.54,204.34 1518.95,201.7 1520.35,198.75 1522.74,186.85 1525.27,190.3 1526.68,197.22 1528.09,193.15 1529.49,198.34 1530.89,201.6 1532.31,200.88 1533.71,204.34 1535.11,210.95 1536.51,212.79 1537.93,212.28 1539.33,211.36 1541.1,207.39 1542.84,207.19 1544.61,203.02 1546.37,202.31 1547.77,205.87 1549.17,215.63 1550.59,221.23 1551.99,219.8 1553.39,213.09 1554.81,205.56 1556.21,197.32 1558.32,203.02 1560.43,197.32 1561.83,200.99 1563.25,207.19 1564.65,216.24 1566.05,229.67 1567.47,221.13 1568.87,201.6 1570.27,203.53 1571.69,210.04 1573.8,205.77 1575.2,209.43 1576.6,207.19 1578.36,198.04 1580.13,191.73 1581.53,198.24 1582.93,198.75 1584.35,211.06 1585.75,224.08 1587.15,213.19 1588.56,207.19 1590.67,201.6 1592.42,204.65 1594.18,207.19 1595.59,207.5 1597,208.62 1598.4,205.56 1599.8,205.77 1601.91,219.8 1604.02,226.93 1605.43,238.12 1606.84,255 1608.24,262.73 1609.64,271.07 1611.06,280.64 1612.46,286.74 1613.86,299.25 1615.56,297.73 1617.24,308.31 1618.94,296.71 1620.62,320.31 1622.3,318.27 1624.07,319.19 1625.83,323.87 1627.23,326.51 1628.63,328.14 1630.05,329.97 1631.45,332.31 1633.56,349.2 1635.67,336.59 1637.07,337.2 1638.49,340.76 1639.89,343.81 1641.29,347.77 1643.4,342.18 1645.51,347.77 1647.62,340.04 1649.04,341.26 1650.44,345.03 1651.84,352.35 1653.26,353.47 1655.37,346.45 1656.77,355.81 1658.17,359.07 1660.28,353.47 1661.69,352.86 1663.1,354.9 1664.84,351.84 1666.61,345.03 1668.01,349.91 1669.42,350.62 1671.17,357.85 1672.93,359.07 1674.34,352.25 1675.75,350.62 1677.86,359.07 1679.26,350.52 1680.66,345.03 1682.43,349 1684.19,359.07 1685.59,356.01 1686.99,349.2 1688.41,354.18 1689.81,359.07 1691.58,355.81 1693.32,347.77 1695.09,346.96 1696.85,349.2 1698.25,348.08 1699.65,353.47 1701.07,355.2 1702.47,353.47 1704.23,346.05 1705.98,345.03 1707.4,346.55 1708.8,352.05 1710.2,355.2 1711.62,357.64 1713.02,362.42 1714.42,359.07 1716.53,364.66 1717.95,359.07 1719.35,359.07 1720.75,355.71 1722.17,352.05 1724.28,345.03 1725.68,363.24 1727.79,342.18 1729.19,321.12 1730.95,314.92 1732.7,306.27 1734.81,292.23 1736.22,277.28 1737.63,264.06 1740.26,249.41 1742.55,239.54 1744.22,238.73 1745.9,239.54 1748.01,224.08 1749.41,220.31 1750.81,222.65 1752.23,220.52 1753.63,214.21 1755.03,209.84 1756.45,210.04 1757.85,206.28 1759.25,208.62 1760.67,203.53 1762.07,204.34 1763.83,206.89 1765.58,208.62 1767.34,215.74 1769.11,219.8 1770.51,209.84 1771.91,203.63 1773.33,195.9 1774.73,209.73 1776.13,224.08 1777.54,221.13 1778.95,224.08 1780.35,210.55 1781.76,195.9 1783.17,207.6 1784.57,210.04 1785.97,208.72 1787.38,205.77 1788.79,209.53 1790.19,204.14 1791.6,205.77 1793.71,195.9 1795.11,200.17 1796.52,205.77 1797.93,199.97 1799.33,191.73 1800.73,198.75 1802.15,205.77 1803.55,199.87 1804.95,197.32 1806.72,201.39 1808.48,205.77 1810.59,197.32 1812.34,198.85 1814.1,205.77 1815.87,203.83 1817.61,201.6 1819.03,196.2 1820.43,191.93 1821.83,191.73 1823.6,195.49 1825.36,205.77 1826.76,202.21 1828.16,195.9 1829.58,193.76 1830.98,195.19 1832.38,202.21 1833.8,201.6 1835.91,191.02 1837.65,197.83 1839.42,200.17 1841.18,201.29 1842.93,194.58 1844.35,195.9 1845.75,201.6 1847.15,208.31 1848.57,210.04 1850.66,207.19 1852.77,221.23 1854.35,222.55 1855.93,224.59 1857.51,225.09 1859.1,228.86 1860.68,226.32 1862.26,220.42 1863.84,229.67 1864.85,223.87 1866.5,234.66 1868.15,231.81 1869.79,234.05 1871.44,229.67 1873.09,236.89 1874.74,232.32 1876.39,236.79 1878.03,232.52 1879.68,234.55 1881.33,233.44 1882.98,239.84 1884.63,234.76 1886.28,243.4 1887.92,244.12 1889.57,250.93 1891.22,251.24 1892.87,254.59 1894.52,252.05 1896.16,255.31 1897.81,251.03 1899.46,253.78 1901.11,249.1 1902.76,253.27 1904.41,244.32 1906.05,246.36 1907.7,234.05 1909.35,247.17 1911,239.44 1912.65,250.63 1914.29,251.03 1915.94,255.1 1917.59,252.76 1919.24,258.05 1920.89,255.51 1922.54,260.29 1924.18,252.26 1925.83,259.99 1927.48,253.48 1929.13,262.12 1930.78,249.31 1932.42,255.61 1934.07,250.22 1935.72,257.24 1937.37,248.39 1939.02,258.56 1940.67,250.12 1942.31,250.63 1943.96,244.63 1945.61,248.08 1947.26,242.59 1948.91,242.08 1950.55,239.44 1952.2,243.2 1953.85,242.69 1955.5,270.77 1957.15,260.19 1958.8,283.28 1960.44,271.89 1962.09,278.09 1963.74,272.09 1965.39,279.21 1967.04,269.75 1968.68,273.92 1970.33,258.46 1971.98,268.43 1973.63,258.97" stroke-linecap="square"/>
<polyline class="d" stroke="#2ca02c" points="1480.82,255.61 1483.08,252.15 1484.48,247.37 1485.9,235.27 1487.3,227.43 1488.7,221.23 1490.12,216.24 1491.52,213.19 1492.92,211.36 1494.68,204.95 1496.45,198.75 1497.85,194.07 1499.25,195.9 1501.64,183.29 1504.18,193.15 1505.58,192.14 1507,191.73 1509.11,186.13 1511.22,183.29 1512.62,184.2 1514.02,182.57 1515.43,191.83 1516.84,200.17 1518.24,191.12 1519.65,172.71 1521.05,175.15 1522.46,179.01 1523.87,175.76 1525.27,178.4 1527.38,187.46 1528.78,183.08 1530.2,183.29 1531.95,191.73 1533.71,195.9 1535.11,188.68 1536.51,183.29 1538.62,204.34 1540.04,197.73 1541.44,193.15 1542.84,188.58 1544.26,180.44 1546.37,172.71 1547.77,179.73 1549.17,180.44 1550.59,186.24 1551.99,191.73 1553.39,183.18 1554.81,178.4 1556.56,186.64 1558.32,194.58 1560.43,187.46 1561.83,188.07 1563.25,191.73 1564.65,190.3 1566.05,183.29 1568.16,191.02 1569.58,178.4 1570.98,186.03 1572.38,191.02 1574.14,197.83 1575.91,201.6 1578.02,183.29 1579.42,183.69 1580.82,183.29 1582.58,186.64 1584.35,191.02 1585.75,186.64 1587.15,183.29 1589.26,178.4 1591.02,181.66 1592.78,186.13 1594.18,182.27 1595.59,178.4 1597.7,191.73 1599.8,179.01 1601.91,169.25 1603.32,193.15 1605.43,235.27 1607.07,248.8 1608.72,253.37 1610.35,264.06 1612.12,270.36 1613.86,278.09 1615.28,290 1616.68,306.27 1618.08,313.19 1619.5,313.29 1620.9,315.12 1622.3,315.43 1623.98,319.09 1625.65,315.22 1627.31,311.26 1628.99,318.38 1630.66,314.71 1632.32,319.19 1634,314.1 1635.67,302.2 1637.33,318.68 1639.02,319.09 1640.68,316.55 1642.34,311.15 1644.03,316.44 1645.69,315.63 1647.36,315.32 1649.04,315.43 1650.44,321.43 1651.84,323.87 1653.95,318.27 1656.06,325.29 1657.82,316.75 1659.58,311.26 1661.69,319.7 1663.1,323.87 1664.5,325.29 1665.9,323.26 1667.31,321.12 1668.72,322.75 1670.12,323.87 1671.53,320.41 1672.93,316.85 1674.34,314.82 1675.75,312.68 1677.15,318.07 1678.56,325.29 1680.32,323.67 1682.08,321.12 1683.83,319.29 1685.59,318.27 1686.99,315.12 1688.41,315.43 1689.81,314.51 1691.21,314.1 1692.63,315.83 1694.03,318.27 1695.43,317.05 1696.85,321.12 1698.25,323.06 1699.65,318.27 1701.07,315.43 1702.47,311.26 1703.87,312.58 1705.29,312.98 1706.69,309.83 1708.45,306.98 1710.2,306.98 1711.96,311.97 1713.73,314.1 1715.13,318.17 1716.53,316.85 1717.95,310.95 1719.35,315.43 1720.75,314.21 1722.17,316.85 1723.57,314.21 1724.97,316.85 1726.39,313.7 1727.79,310.24 1729.19,306.27 1730.95,286.43 1732.7,271.07 1734.12,265.68 1735.52,255.21 1736.92,243.71 1738.68,242.69 1740.44,228.65 1742.19,225.2 1743.95,215.63 1745.98,213.09 1748.01,205.77 1750.12,219.8 1751.52,213.19 1752.92,205.77 1754.34,204.65 1755.74,207.19 1757.5,201.9 1759.25,190.3 1761.01,196.81 1762.78,205.77 1764.52,199.05 1766.29,187.46 1768.05,182.98 1769.8,183.29 1771.56,182.06 1773.33,176.98 1775.44,183.29 1776.84,187.35 1778.24,190.3 1779.65,189.59 1781.06,186.13 1782.46,188.27 1783.87,192.44 1785.27,195.9 1786.68,191.63 1788.08,186.13 1789.49,185.32 1790.9,184.71 1792.3,186.13 1793.71,183.79 1795.11,176.98 1796.52,185.63 1797.93,190.3 1799.33,190.3 1800.73,186.13 1802.15,188.47 1803.55,188.88 1804.95,191.73 1806.37,190.3 1807.77,184.61 1809.17,186.13 1810.59,181.35 1811.99,176.78 1813.39,171.99 1815.5,190.3 1817.61,177.69 1819.72,190.3 1821.83,176.98 1823.25,182.37 1824.65,185.93 1826.05,186.13 1827.81,186.74 1829.58,186.13 1831.33,183.08 1833.09,186.13 1834.85,177.69 1836.6,171.99 1838.36,186.13 1840.13,200.17 1842.24,186.13 1844.35,190.3 1845.75,187.35 1847.15,186.13 1848.91,182.17 1850.66,177.69 1852.77,193.15 1854.19,221.23 1856.3,228.25 1858.4,238.32 1860.15,240.25 1861.92,248.08 1863.68,250.83 1864.85,250.53 1866.5,255.21 1868.15,251.54 1869.79,263.95 1871.44,257.65 1873.09,267.82 1874.74,259.58 1876.39,260.9 1878.03,257.34 1879.68,262.22 1881.33,259.78 1882.98,270.87 1884.63,263.85 1886.28,272.09 1887.92,267.62 1889.57,271.38 1891.22,268.12 1892.87,271.18 1894.52,264.56 1896.16,275.24 1897.81,266.7 1899.46,274.43 1901.11,270.87 1902.76,277.69 1904.41,270.26 1906.05,274.02 1907.7,268.84 1909.35,283.28 1911,273.41 1912.65,278.4 1914.29,269.55 1915.94,272.8 1917.59,269.85 1919.24,277.69 1920.89,272.6 1922.54,283.28 1924.18,273.52 1925.83,281.04 1927.48,269.04 1929.13,278.09 1930.78,267.82 1932.42,285.42 1934.07,282.37 1935.72,288.98 1937.37,279.52 1939.02,281.76 1940.67,277.69 1942.31,281.76 1943.96,279.21 1945.61,283.48 1947.26,281.04 1948.91,281.55 1950.55,273.41 1952.2,281.45 1953.85,275.24 1955.5,290.71 1957.15,284.2 1958.8,291.62 1960.44,272.91 1962.09,278.4 1963.74,267.92 1965.39,280.33 1967.04,269.75 1968.68,275.45 1970.33,254.8 1971.98,262.22 1973.63,256.12" stroke-linecap="square"/>
<polyline class="d" stroke="#d62728" points="1480.82,287.96 1482.37,282.37 1484.48,264.06 1486.59,250.02 1487.3,235.27 1489.06,231.1 1490.81,224.08 1492.92,217.06 1495.03,197.32 1496.45,188.17 1497.85,190.3 1499.96,176.27 1502.07,171.99 1504.18,148.9 1506.29,150.33 1508.4,143.31 1510.51,167.21 1511.91,169.55 1513.32,164.36 1515.43,147.48 1517.54,129.27 1519.65,122.15 1521.76,110.96 1523.87,109.53 1526.26,125 1528.37,101.09 1530.89,110.96 1533,120.83 1534.7,95.5 1536.81,109.53 1538.62,101.09 1540.32,109.53 1542.15,100.38 1544.67,95.5 1547.06,101.09 1549.17,113.71 1551.28,115.13 1553.39,109.53 1554.81,106.38 1556.21,101.09 1558.32,129.27 1559.72,128.86 1561.14,129.27 1563.25,122.15 1564.65,113.4 1566.05,105.36 1568.16,105.36 1569.58,91.22 1570.98,115.13 1572.81,86.34 1574.49,101.09 1575.91,100.28 1577.31,101.09 1578.71,104.35 1580.13,106.69 1581.53,107.7 1582.93,110.25 1584.35,101.09 1585.75,110.25 1587.86,101.09 1589.62,100.99 1591.37,101.09 1592.78,103.74 1594.18,109.53 1596.29,115.13 1598.4,110.25 1600.09,113.71 1601.5,105.36 1603.32,105.97 1604.02,136.29 1604.73,164.98 1606.84,200.17 1608.95,235.27 1609.64,254.19 1611.06,264.06 1612.46,273.92 1614.57,282.37 1616.68,294.98 1619.22,282.37 1620.9,297.83 1622.3,306.27 1624.41,303.42 1626.52,309.02 1628.63,296.4 1630.74,310.44 1632.16,287.25 1634.27,317.46 1636.38,302 1638.49,310.44 1640.6,303.42 1642.71,302 1644.82,316.14 1646.93,292.23 1649.04,306.27 1650.44,300.57 1651.84,287.25 1653.95,294.98 1656.06,290.81 1658.17,294.98 1659.58,302.41 1660.99,306.27 1663.1,303.42 1665.2,292.23 1666.61,289.69 1668.01,287.25 1670.12,304.85 1671.53,308.31 1672.93,307.7 1674.34,306.98 1675.75,302 1677.15,307.08 1678.56,314.71 1680.66,318.88 1682.77,304.85 1684.54,302 1686.3,296.4 1687.7,302.1 1689.1,310.44 1691.21,302 1692.63,299.86 1694.03,300.68 1695.43,300.68 1696.85,302 1698.96,297.83 1701.07,310.44 1702.47,296.4 1703.87,309.02 1706.41,287.25 1708.8,304.85 1710.91,296.4 1712.31,298.85 1713.73,303.42 1715.13,307.19 1716.53,310.44 1717.95,313.29 1719.35,310.44 1721.46,292.23 1722.86,304.95 1724.28,317.46 1726.39,306.27 1728.48,285.11 1730.59,264.06 1732.01,255 1733.93,238.12 1735.35,232.32 1736.75,228.25 1737.63,228.25 1739.57,210.04 1740.44,207.19 1742.37,200.17 1743.79,196.31 1745.19,190.3 1746.59,186.13 1748.01,179.93 1749.41,173.42 1750.81,167.82 1752.92,169.96 1755.03,164.36 1757.14,153.17 1758.56,151.24 1759.96,152.46 1762.07,138.32 1764.18,153.17 1765.86,139.04 1767.69,144.73 1769.8,136.29 1772.19,119.4 1774.02,132.02 1776.13,134.86 1777.54,133.85 1778.95,129.27 1780.71,127.95 1782.46,129.27 1784.57,133.44 1786.68,134.86 1788.79,124.29 1790.19,125.4 1791.6,134.15 1793.71,125 1795.82,123.57 1797.22,114.42 1799.33,119.4 1800.73,115.13 1802.15,123.67 1803.55,129.88 1805.66,112.38 1807.77,119.4 1809.17,109.53 1811.28,95.5 1813.39,105.36 1814.81,95.5 1816.92,99.67 1818.6,120.83 1820.43,101.09 1821.83,105.67 1823.25,110.96 1824.65,108.42 1826.05,105.36 1827.47,97.23 1828.87,95.5 1830.98,103.94 1833.09,101.09 1835.2,110.96 1836.6,114.82 1838.02,120.11 1840.13,101.09 1841.53,103.84 1842.93,110.25 1844.35,104.96 1845.75,96.92 1847.86,105.36 1849.97,90.51 1852.08,101.09 1853.48,136.29 1854.88,164.98 1856.99,186.13 1859.1,214.21 1860.93,243.91 1862.62,253.78 1864.02,250.93 1865.43,248.08 1866.84,252.36 1868.24,256.53 1869.65,262.63 1871.06,262.22 1872.46,262.33 1873.86,267.82 1875.97,277.69 1878.08,279.11 1879.5,283.28 1880.9,271.07 1882.3,262.22 1884.07,263.95 1885.83,259.38 1887.58,255.92 1889.34,255.21 1890.74,251.85 1892.16,248.08 1894.27,234.05 1895.67,283.28 1897.43,268.43 1899.18,255.21 1900.94,263.65 1902.71,273.41 1904.45,276.87 1906.22,274.84 1907.62,277.38 1909.04,279.11 1910.78,269.96 1912.55,266.39 1914.29,269.55 1916.06,270.67 1917.82,273.92 1919.57,273.41 1921.33,275.96 1923.1,273.41 1924.5,270.06 1925.9,261.61 1927.32,256.53 1929.06,249.61 1930.83,248.8 1932.94,273.41 1935.33,297.32 1936.94,291.62 1938.56,287.55 1940.32,284.91 1942.08,283.28 1943.83,274.23 1945.59,273.41 1946.99,265.99 1948.41,256.53 1950.52,249.51 1952.63,262.22 1954.03,264.87 1955.43,264.06 1956.85,266.39 1958.25,254.19 1959.65,243.91 1961.07,257.75 1962.47,267.82 1963.87,262.02 1965.29,251.34 1966.69,243.91 1968.8,269.24 1970.2,243.91 1972.31,249.51 1973.63,248.8" stroke-linecap="square"/>
<polyline class="d" stroke="#9467bd" points="1480.82,249.41 1482.37,247.98 1484.48,229.67 1486.59,221.23 1488.01,215.13 1489.41,210.04 1490.81,191.73 1492.92,188.88 1495.03,173.42 1497.14,169.96 1499.25,162.94 1501.64,161.52 1503.47,169.96 1504.89,158.06 1507,161.52 1509.11,164.36 1511.22,162.94 1513.32,147.48 1515.15,144.02 1517.54,153.17 1519.65,153.17 1521.76,144.02 1523.87,153.17 1525.98,152.46 1528.37,138.32 1530.89,155.92 1533,162.94 1535.11,153.17 1536.51,158.57 1537.93,158.77 1540.04,148.9 1541.87,162.94 1543.83,148.9 1546.09,148.19 1548.05,162.94 1549.88,147.48 1551.56,138.32 1553.39,153.17 1554.81,157.04 1556.21,160.19 1558.32,148.9 1560,168.64 1561.63,157.75 1563.25,144.73 1565.36,150.33 1566.76,145.85 1568.16,143.31 1570.27,153.17 1572.38,143.31 1574.49,150.33 1575.91,156.84 1577.31,162.94 1579.07,156.12 1580.82,148.9 1582.24,149.31 1583.64,148.19 1585.75,148.19 1587.15,150.63 1588.56,157.35 1589.97,154.5 1591.37,157.35 1593.48,160.19 1595.59,169.96 1597.7,153.17 1599.8,160.19 1601.21,157.35 1602.62,153.17 1603.74,164.98 1605.43,200.17 1607.53,235.27 1608.95,264.06 1609.64,278.09 1611.75,286.54 1613.17,299.25 1614.57,296.1 1615.97,296.4 1618.08,306.27 1620.19,314.71 1621.96,315.22 1623.72,312.68 1625.12,315.32 1626.52,318.27 1627.94,318.88 1629.34,322.55 1630.74,321.53 1632.16,326.72 1634.27,333.74 1636.38,321.12 1637.78,319.8 1639.18,316.85 1641.29,332.31 1643.4,321.12 1644.82,324.07 1646.22,326.72 1647.62,329.16 1649.04,332.31 1650.44,332.62 1651.84,326.72 1653.26,330.18 1654.66,333.74 1656.06,335.16 1657.47,333.74 1658.88,335.77 1660.28,339.33 1662.39,345.03 1663.79,339.54 1665.2,329.57 1666.61,337.09 1668.01,336.59 1670.12,343.6 1672.23,325.29 1673.99,332.31 1675.75,339.33 1677.15,334.65 1678.56,330.89 1680.32,329.97 1682.08,326.72 1683.83,324.17 1685.59,325.29 1686.99,323.06 1688.41,320.92 1689.81,316.85 1691.92,335.16 1693.69,327.12 1695.43,321.12 1696.85,330.58 1698.25,333.74 1699.65,336.99 1701.07,337.5 1702.47,339.33 1704.23,333.43 1705.98,330.89 1707.4,332.72 1708.8,333.74 1710.56,330.99 1712.31,329.57 1714.42,321.12 1716.18,331.6 1717.95,339.33 1720.06,321.12 1722.17,321.12 1723.57,326.82 1724.97,333.74 1726.39,321.12 1728.48,306.98 1730.59,292.23 1732.7,278.09 1734.81,264.06 1736.22,253.37 1737.63,249.41 1738.86,238.12 1740.44,221.23 1742.55,207.19 1744.22,205.77 1745.9,201.6 1747.3,195.39 1748.7,198.75 1750.81,186.13 1752.92,176.27 1755.03,169.25 1755.74,167.21 1757.14,174.84 1757.85,169.96 1759.96,171.99 1761.36,171.89 1762.78,169.25 1764.18,167.93 1765.58,174.84 1766.29,169.96 1768.4,169.25 1769.11,167.21 1770.51,167.82 1771.22,168.64 1773.33,164.98 1775.14,180.44 1777.05,164.26 1778.95,148.19 1781.06,153.17 1783.17,150.33 1785.27,139.04 1787.38,153.17 1789.49,148.9 1792.02,158.77 1793.57,148.6 1795.11,139.04 1797.22,143.31 1798.63,148.9 1800.04,158.77 1802.15,134.15 1803.55,146.16 1804.95,153.17 1806.37,144.73 1807.77,153.17 1809.17,153.17 1810.59,151.55 1811.99,152.46 1813.76,143.82 1815.5,138.32 1817.61,148.9 1819.03,145.14 1820.43,144.02 1821.83,143.21 1823.25,153.17 1825.36,148.9 1826.97,143.61 1828.59,139.04 1830.98,150.33 1833.09,153.17 1834.85,143.1 1836.6,134.15 1838.02,138.22 1839.42,146.05 1841.53,150.33 1842.93,143.92 1844.35,139.04 1846.46,157.35 1847.86,151.85 1849.26,153.17 1851.37,153.17 1852.77,179.01 1853.91,193.15 1855.59,211.36 1857.7,217.06 1859.81,243.91 1861.92,234.05 1864.85,232.62 1866.5,245.34 1868.15,229.88 1869.79,244.63 1871.44,235.37 1873.09,250.22 1874.74,238.12 1876.39,246.66 1878.03,242.69 1879.68,270.06 1881.33,256.53 1882.98,287.55 1884.63,255.21 1886.28,270.57 1887.92,259.99 1889.57,273.41 1891.22,259.68 1892.87,270.36 1894.52,262.33 1896.16,273.41 1897.81,262.12 1899.46,269.14 1901.11,263.34 1902.76,270.97 1904.41,257.95 1906.05,267.82 1907.7,262.83 1909.35,261.51 1911,249.51 1912.65,260.39 1914.29,251.14 1915.94,262.94 1917.59,257.95 1919.24,264.97 1920.89,259.27 1922.54,264.97 1924.18,254.59 1925.83,263.44 1927.48,258.16 1929.13,278.4 1930.78,269.96 1932.42,283.28 1934.07,262.83 1935.72,265.99 1937.37,263.14 1939.02,277.69 1940.67,262.22 1942.31,273.52 1943.96,268.23 1945.61,272.09 1947.26,266.19 1948.91,268.33 1950.55,262.83 1952.2,266.8 1953.85,258.56 1955.5,259.07 1957.15,255.21 1958.8,258.36 1960.44,252.05 1962.09,255.21 1963.74,249.51 1965.39,268.63 1967.04,266.6 1968.68,287.55 1970.33,273.62 1971.98,280.23 1973.63,257.95" stroke-linecap="square"/>
<polyline class="d" stroke="#000" points="1480.82,263.75 1975.28,263.75" stroke-dasharray="3.14 5.17"/>
</g>
<polyline class="d" stroke="#000" stroke-width="3.4" stroke-linejoin="miter" stroke-linecap="square" points="1480.82,497.77 1603.2,497.77 1604.85,578.18 1727.22,578.18 1728.88,497.77 1852.9,497.77 1854.56,578.18 1856.21,497.77 1857.86,578.18 1859.52,497.77 1861.17,578.18 1862.83,497.77 1864.48,578.18 1866.13,497.77 1867.79,578.18 1869.44,497.77 1871.09,578.18 1872.75,497.77 1874.4,578.18 1876.06,497.77 1877.71,578.18 1879.36,497.77 1881.02,578.18 1882.67,497.77 1884.32,578.18 1885.98,497.77 1887.63,578.18 1889.29,497.77 1890.94,578.18 1892.59,497.77 1894.25,578.18 1895.9,497.77 1897.55,578.18 1899.21,497.77 1900.86,578.18 1902.51,497.77 1904.17,578.18 1905.82,497.77 1907.48,578.18 1909.13,497.77 1910.78,578.18 1912.44,497.77 1914.09,578.18 1915.74,497.77 1917.4,578.18 1919.05,497.77 1920.71,578.18 1922.36,497.77 1924.01,578.18 1925.67,497.77 1927.32,578.18 1928.97,497.77 1930.63,578.18 1932.28,497.77 1933.93,578.18 1935.59,497.77 1937.24,578.18 1938.9,497.77 1940.55,578.18 1942.2,497.77 1943.86,578.18 1945.51,497.77 1947.16,578.18 1948.82,497.77 1950.47,578.18 1952.13,497.77 1953.78,578.18 1955.43,497.77 1957.09,578.18 1958.74,497.77 1960.39,578.18 1962.05,497.77 1963.7,578.18 1965.36,497.77 1967.01,578.18 1968.66,497.77 1970.32,578.18 1971.97,497.77 1973.62,578.18 1975.28,497.77"/>
<path class="sq" d="M1456.1 60.3V467.2H2000"/>
<path class="sq" d="M1456.1 493.75V582.2H2000"/>
<path class="s" d="M1480.82 467.2v7.6M1563.23 467.2v7.6M1645.64 467.2v7.6M1728.05 467.2v7.6M1810.46 467.2v7.6M1892.87 467.2v7.6M1975.28 467.2v7.6M1480.82 582.2v7.6M1563.51 582.2v7.6M1646.19 582.2v7.6M1728.88 582.2v7.6M1811.56 582.2v7.6M1894.25 582.2v7.6M1976.93 582.2v7.6M1456.1 467.2h-8M1456.1 416.34h-8M1456.1 365.48h-8M1456.1 314.61h-8M1456.1 263.75h-8M1456.1 212.89h-8M1456.1 162.03h-8M1456.1 111.16h-8M1456.1 60.3h-8M1456.1 578.18h-8M1456.1 537.98h-8M1456.1 497.77h-8"/>
<text class="t" text-anchor="end" transform="translate(1441.4 473.5) scale(1 1.02)"><tspan font-size="28" dy="2.3">−</tspan><tspan dy="-2.3">2.0</tspan></text>
<text class="t" text-anchor="end" transform="translate(1441.4 422.64) scale(1 1.02)"><tspan font-size="28" dy="2.3">−</tspan><tspan dy="-2.3">1.5</tspan></text>
<text class="t" text-anchor="end" transform="translate(1441.4 371.78) scale(1 1.02)"><tspan font-size="28" dy="2.3">−</tspan><tspan dy="-2.3">1.0</tspan></text>
<text class="t" text-anchor="end" transform="translate(1441.4 320.91) scale(1 1.02)"><tspan font-size="28" dy="2.3">−</tspan><tspan dy="-2.3">0.5</tspan></text>
<text class="t" text-anchor="end" transform="translate(1441.4 271.15) scale(1 1.02)">0.0</text>
<text class="t" text-anchor="end" transform="translate(1441.4 220.29) scale(1 1.02)">0.5</text>
<text class="t" text-anchor="end" transform="translate(1441.4 169.43) scale(1 1.02)">1.0</text>
<text class="t" text-anchor="end" transform="translate(1441.4 118.56) scale(1 1.02)">1.5</text>
<text class="t" text-anchor="end" transform="translate(1441.4 67.7) scale(1 1.02)">2.0</text>
<text class="t" text-anchor="end" transform="translate(1441.4 584.48) scale(1 1.02)"><tspan font-size="28" dy="2.3">−</tspan><tspan dy="-2.3">1</tspan></text>
<text class="t" text-anchor="end" transform="translate(1441.4 545.38) scale(1 1.02)">0</text>
<text class="t" text-anchor="end" transform="translate(1441.4 505.17) scale(1 1.02)">1</text>
<text class="t" text-anchor="middle" transform="translate(1480.82 611.6) scale(1 1.02)">0</text>
<text class="t" text-anchor="middle" transform="translate(1563.51 611.6) scale(1 1.02)">50</text>
<text class="t" text-anchor="middle" transform="translate(1646.19 611.6) scale(1 1.02)">100</text>
<text class="t" text-anchor="middle" transform="translate(1728.88 611.6) scale(1 1.02)">150</text>
<text class="t" text-anchor="middle" transform="translate(1811.56 611.6) scale(1 1.02)">200</text>
<text class="t" text-anchor="middle" transform="translate(1894.25 611.6) scale(1 1.02)">250</text>
<text class="t" text-anchor="middle" transform="translate(1976.93 611.6) scale(1 1.02)">300</text>
<text class="l" transform="translate(1728.05 640) scale(0.987 1.05)">Pulse #</text>
<text class="l" transform="translate(1402.3 537.98) rotate(-90) scale(0.987 1.05)">Direction</text>
<g transform="translate(1386.2 263.75) rotate(-90)"><text class="l" style="text-anchor:start" transform="translate(-153.75 0) scale(0.9955 1.05)">Differential read value</text><text class="m" transform="translate(54.7 0) scale(0.95 1)" font-style="italic">A</text><text class="m" transform="translate(73.6 1.4) scale(1.22 1)">−</text><text class="m" transform="translate(95.3 0) scale(1.14 1)" font-style="italic">R</text><text class="m" style="font-size:21.4px" transform="translate(59.7 -5.8)">˘</text><text class="m" style="font-size:21.4px" transform="translate(99.9 -5.8)">˘</text><text class="l" style="text-anchor:start" transform="translate(115.6 0) scale(0.98 1.05)">[AU]</text></g>
<text class="p" transform="translate(1364 31.8) scale(0.945 1.065)">C</text>
</g>
</svg></body></html>
